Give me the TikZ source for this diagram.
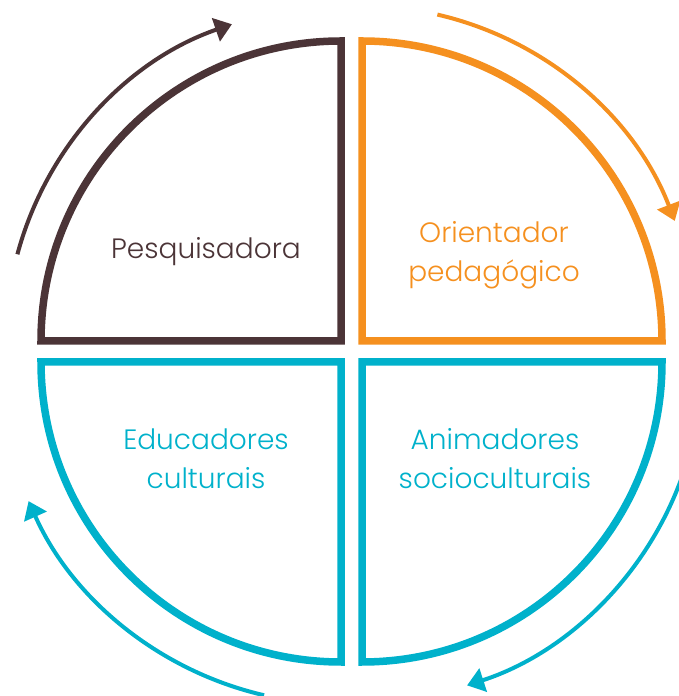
\documentclass[tikz,border=0pt]{standalone}
\usepackage{fontspec}
\setmainfont{Poppins Light}
\usetikzlibrary{arrows.meta}
\definecolor{brownq}{HTML}{4B3437}
\definecolor{orangeq}{HTML}{F5901F}
\definecolor{cyanq}{HTML}{00B1CB}

\begin{document}
\begin{tikzpicture}[x=1pt,y=1pt,
  quad/.style={line width=7.5pt, line join=miter},
  cyclearrow/.style={line width=4pt, -{Triangle[length=17pt,width=24pt]}},
  roletext/.style={align=center, font=\fontsize{28}{39}\selectfont}]
\useasboundingbox (0,0) rectangle (679,696);
\coordinate (tl) at (341,355);
\coordinate (tr) at (362,355);
\coordinate (bl) at (341,334);
\coordinate (br) at (362,334);
\draw[quad,brownq] (tl) -- ++(0,300) arc[start angle=90,end angle=180,radius=300] -- cycle;
\draw[quad,orangeq] (tr) -- ++(0,300) arc[start angle=90,end angle=0,radius=300] -- cycle;
\draw[quad,cyanq] (bl) -- ++(0,-300) arc[start angle=270,end angle=180,radius=300] -- cycle;
\draw[quad,cyanq] (br) -- ++(0,-300) arc[start angle=-90,end angle=0,radius=300] -- cycle;
\draw[cyclearrow,brownq] ([shift={(165:335)}]tl) arc[start angle=165,end angle=109,radius=335];
\draw[cyclearrow,orangeq] ([shift={(77:335)}]tr) arc[start angle=77,end angle=21,radius=335];
\draw[cyclearrow,cyanq] ([shift={(-20:340)}]br) arc[start angle=-20,end angle=-72,radius=340];
\draw[cyclearrow,cyanq] ([shift={(257:342)}]bl) arc[start angle=257,end angle=204,radius=342];
\node[roletext,brownq] (pesq) at (206,444) {Pesquisadora};
\node[roletext,orangeq] (orient) at (494,441) {Orientador\\pedagógico};
\node[roletext,cyanq] (educ) at (206,237) {Educadores\\culturais};
\node[roletext,cyanq] (anim) at (495,237) {Animadores\\socioculturais};
\end{tikzpicture}
\end{document}
